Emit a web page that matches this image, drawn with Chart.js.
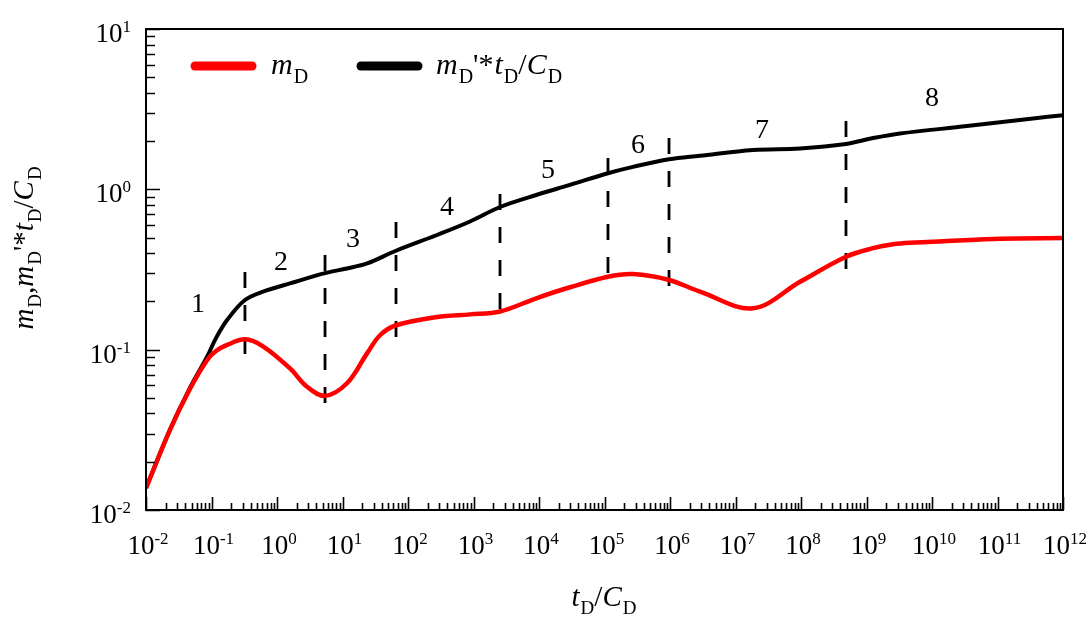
<!DOCTYPE html>
<html>
<head>
<meta charset="utf-8">
<script src="https://cdn.jsdelivr.net/npm/chart.js@4/dist/chart.umd.min.js"></script>
<style>
html,body{margin:0;padding:0;background:#fff;}
#wrap{width:1090px;height:617px;position:relative;}
</style>
</head>
<body>
<div id="wrap"><canvas id="c" width="1090" height="617"></canvas></div>
<script>
// ---------- data ----------
const mdT   = [0.01, 0.0232, 0.047, 0.0853, 0.117, 0.173, 0.324, 0.611, 1.58, 2.87, 5.41, 11.7, 23.7, 37.4, 65.6, 277, 885, 2540, 9310, 2.97e4, 1.13e5, 2.72e5, 9.66e5, 2.87e6, 1.85e7, 9.66e7, 4.86e8, 1.21e9, 2.54e9, 5.5e9, 1.5e10, 1.1e11, 1e12];
const mdV   = [0.0137, 0.0316, 0.057, 0.086, 0.098, 0.107, 0.116, 0.105, 0.0764, 0.0587, 0.0515, 0.0617, 0.0948, 0.123, 0.142, 0.160, 0.166, 0.173, 0.21, 0.245, 0.285, 0.296, 0.272, 0.23, 0.181, 0.265, 0.38, 0.428, 0.455, 0.466, 0.474, 0.492, 0.497];

const derT  = [0.01, 0.0232, 0.047, 0.0853, 0.117, 0.173, 0.324, 0.611, 1.58, 5.41, 11.7, 23.7, 65.6, 277, 885, 2540, 9310, 2.97e4, 1.13e5, 2.72e5, 9.66e5, 2.87e6, 1.85e7, 9.66e7, 4.86e8, 1.21e9, 3.24e9, 3.42e10, 3.48e11, 1e12];
const derV  = [0.0137, 0.0316, 0.058, 0.090, 0.118, 0.153, 0.204, 0.23, 0.259, 0.30, 0.321, 0.345, 0.414, 0.519, 0.63, 0.776, 0.925, 1.065, 1.26, 1.38, 1.54, 1.62, 1.76, 1.80, 1.92, 2.08, 2.23, 2.48, 2.77, 2.90];

const boundaryT      = [0.324, 5.41, 65.6, 2540, 1.13e5, 9.66e5, 4.86e8];
const boundaryTop    = [0.305, 0.389, 0.625, 0.935, 1.57, 2.09, 2.67];
const boundaryBottom = [0.0888, 0.0433, 0.113, 0.153, 0.275, 0.222, 0.288];

const regionNames = ['1', '2', '3', '4', '5', '6', '7', '8'];
const regionT     = [0.0622, 1.15, 14.5, 394, 1.37e4, 3.24e5, 2.54e7, 1e10];
const regionV     = [0.19, 0.351, 0.483, 0.764, 1.30, 1.86, 2.31, 3.66];

const xTickExps = [-2, -1, 0, 1, 2, 3, 4, 5, 6, 7, 8, 9, 10, 11, 12];
const yTickExps = [-2, -1, 0, 1];

// ---------- helpers ----------
const SERIF = '"Liberation Serif", "Times New Roman", Times, serif';
function fontOf(p, size, small) {
  const s = (p.sub || p.sup) ? small : size;
  return (p.it ? 'italic ' : '') + s + 'px ' + SERIF;
}
function drawRich(ctx, parts, x, y, align, size, small, subDy, supDy) {
  let w = 0;
  parts.forEach(p => { ctx.font = fontOf(p, size, small); w += ctx.measureText(p.t).width + (p.gap || 0); });
  let cx = align === 'center' ? x - w / 2 : (align === 'right' ? x - w : x);
  ctx.textAlign = 'left';
  ctx.textBaseline = 'alphabetic';
  parts.forEach(p => {
    ctx.font = fontOf(p, size, small);
    const dy = p.sub ? subDy : (p.sup ? -supDy : 0);
    ctx.fillText(p.t, cx, y + dy);
    cx += ctx.measureText(p.t).width + (p.gap || 0);
  });
}

const labelMD = [{t: 'm', it: true, gap: 1}, {t: 'D', sub: true}];
const labelDer = [{t: 'm', it: true, gap: 1}, {t: 'D', sub: true}, {t: "'*", gap: 1}, {t: 't', it: true, gap: 1}, {t: 'D', sub: true}, {t: '/'}, {t: 'C', it: true, gap: 1}, {t: 'D', sub: true}];
const labelY = [{t: 'm', it: true, gap: 1}, {t: 'D', sub: true}, {t: ','}, {t: 'm', it: true, gap: 1}, {t: 'D', sub: true}, {t: "'*"}, {t: 't', it: true, gap: 1}, {t: 'D', sub: true}, {t: '/'}, {t: 'C', it: true, gap: 1}, {t: 'D', sub: true}];
const labelX = [{t: 't', it: true, gap: 1}, {t: 'D', sub: true}, {t: '/'}, {t: 'C', it: true, gap: 1}, {t: 'D', sub: true}];

const framePlugin = {
  id: 'framePlugin',
  afterDatasetsDraw(chart) {
    const ctx = chart.ctx;
    const xs = chart.scales.x, ys = chart.scales.y;
    const a = chart.chartArea;
    ctx.save();
    ctx.strokeStyle = '#000';
    ctx.fillStyle = '#000';
    // frame
    ctx.lineWidth = 2;
    ctx.strokeRect(a.left, a.top, a.right - a.left, a.bottom - a.top);
    // x ticks (inward, bottom only)
    ctx.lineWidth = 1.6;
    ctx.beginPath();
    for (let e = xTickExps[0]; e <= xTickExps[xTickExps.length - 1]; e++) {
      for (let m = 1; m <= 9; m++) {
        const v = m * Math.pow(10, e);
        if (v > xs.max * 1.0001) break;
        const px = Math.round(xs.getPixelForValue(v)) + 0.5;
        const len = m === 1 ? 13 : 7;
        ctx.moveTo(px, a.bottom);
        ctx.lineTo(px, a.bottom - len);
      }
    }
    // y ticks (inward, left only)
    for (let e = yTickExps[0]; e <= yTickExps[yTickExps.length - 1]; e++) {
      for (let m = 1; m <= 9; m++) {
        const v = m * Math.pow(10, e);
        if (v > ys.max * 1.0001) break;
        const py = Math.round(ys.getPixelForValue(v)) + 0.5;
        const len = m === 1 ? 14 : 9;
        ctx.moveTo(a.left, py);
        ctx.lineTo(a.left + len, py);
      }
    }
    ctx.stroke();
    // tick labels
    xTickExps.forEach(e => {
      const px = xs.getPixelForValue(Math.pow(10, e));
      drawRich(ctx, [{t: '10'}, {t: String(e), sup: true}], px + 2, 554, 'center', 27, 17, 0, 10);
    });
    yTickExps.forEach(e => {
      const py = ys.getPixelForValue(Math.pow(10, e));
      drawRich(ctx, [{t: '10'}, {t: String(e), sup: true}], 131, py + 13, 'right', 27, 17, 0, 10);
    });
    // axis titles
    drawRich(ctx, labelX, 604, 606, 'center', 29, 19, 8, 0);
    ctx.save();
    ctx.translate(33, 248);
    ctx.rotate(-Math.PI / 2);
    drawRich(ctx, labelY, 0, 0, 'center', 29, 19, 8, 0);
    ctx.restore();
    // region numbers
    ctx.font = '28px ' + SERIF;
    ctx.textAlign = 'center';
    ctx.textBaseline = 'middle';
    regionNames.forEach((n, i) => {
      ctx.fillText(n, xs.getPixelForValue(regionT[i]), ys.getPixelForValue(regionV[i]));
    });
    // legend
    ctx.lineCap = 'round';
    ctx.lineWidth = 9;
    ctx.strokeStyle = '#ff0000';
    ctx.beginPath(); ctx.moveTo(195, 66); ctx.lineTo(252, 66); ctx.stroke();
    ctx.strokeStyle = '#000';
    ctx.beginPath(); ctx.moveTo(361, 66); ctx.lineTo(418, 66); ctx.stroke();
    drawRich(ctx, labelMD, 271, 74, 'left', 30, 20, 9, 0);
    drawRich(ctx, labelDer, 436, 74, 'left', 30, 20, 9, 0);
    ctx.restore();
  }
};

const datasets = [
  {
    label: 'mD',
    data: mdT.map((t, i) => ({x: t, y: mdV[i]})),
    borderColor: '#ff0000', borderWidth: 4.5, pointRadius: 0,
    tension: 0.35, fill: false
  },
  {
    label: "mD'*tD/CD",
    data: derT.map((t, i) => ({x: t, y: derV[i]})),
    borderColor: '#000000', borderWidth: 4, pointRadius: 0,
    tension: 0.35, fill: false
  }
];
boundaryT.forEach((t, i) => {
  datasets.push({
    label: 'boundary ' + (i + 1),
    data: [{x: t, y: boundaryTop[i]}, {x: t, y: boundaryBottom[i]}],
    borderColor: '#000000', borderWidth: 2.8, borderDash: [16, 17],
    pointRadius: 0, tension: 0, fill: false
  });
});

new Chart(document.getElementById('c'), {
  type: 'line',
  data: {datasets},
  options: {
    responsive: false,
    devicePixelRatio: 1,
    animation: false,
    layout: {padding: {top: 29, right: 27, left: 0, bottom: 0}},
    plugins: {legend: {display: false}, tooltip: {enabled: false}},
    scales: {
      x: {
        type: 'logarithmic', min: 0.01, max: 1e12,
        ticks: {display: false}, grid: {display: false}, border: {display: false},
        afterFit: s => { s.height = 107; }
      },
      y: {
        type: 'logarithmic', min: 0.01, max: 10,
        ticks: {display: false}, grid: {display: false}, border: {display: false},
        afterFit: s => { s.width = 146; }
      }
    }
  },
  plugins: [framePlugin]
});
</script>
</body>
</html>
